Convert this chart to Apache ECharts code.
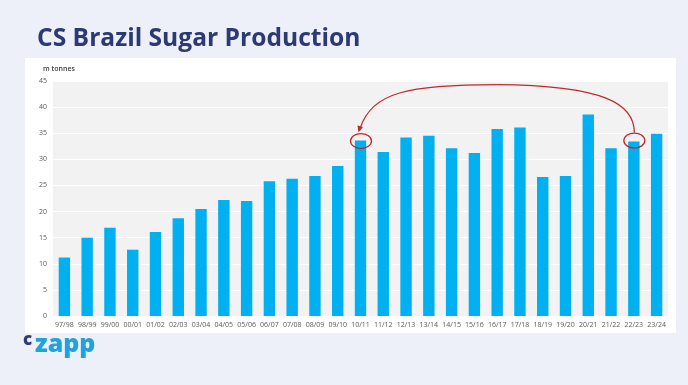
<!DOCTYPE html>
<html><head><meta charset="utf-8">
<script src="https://cdn.jsdelivr.net/npm/echarts@6/dist/echarts.min.js"></script>
<style>html,body{margin:0;padding:0;background:#eef0f9;}#c{width:688px;height:385px;}</style>
</head><body><div id="c"></div>
<script>
const categories = ['97/98','98/99','99/00','00/01','01/02','02/03','03/04','04/05','05/06','06/07','07/08','08/09','09/10','10/11','11/12','12/13','13/14','14/15','15/16','16/17','17/18','18/19','19/20','20/21','21/22','22/23','23/24'];
const production = [11.2,15.0,16.9,12.7,16.1,18.7,20.5,22.2,22.0,25.8,26.3,26.8,28.7,33.6,31.4,34.2,34.5,32.1,31.2,35.8,36.1,26.6,26.8,38.6,32.1,33.4,34.9];
const yTicks = [0,5,10,15,20,25,30,35,40,45];
const highlightFrom = '22/23';
const highlightTo = '10/11';

const chart = echarts.init(document.getElementById('c'), null, {renderer:'canvas'});
const option = {
  backgroundColor: '#eef0f9',
  animation: false,
  grid: {left: 53, right: 20, top: 81, bottom: 69, show: true, backgroundColor: '#f2f2f2', borderWidth: 0},
  xAxis: {
    type: 'category', data: categories,
    axisLine: {show: false}, axisTick: {show: false},
    axisLabel: {color: '#595959', fontSize: 7, fontFamily: 'Open Sans', margin: 5, interval: 0}
  },
  yAxis: {
    type: 'value', min: yTicks[0], max: yTicks[yTicks.length-1], interval: 5,
    axisLine: {show: false}, axisTick: {show: false},
    axisLabel: {color: '#595959', fontSize: 7, fontFamily: 'Open Sans', margin: 6},
    splitLine: {lineStyle: {color: '#ffffff', width: 1}}
  },
  series: [{
    type: 'bar', data: production, barWidth: '50%',
    itemStyle: {color: '#00b0f0'}
  }]
};
chart.setOption(option);

const a = chart.convertToPixel({seriesIndex:0}, [highlightTo, production[categories.indexOf(highlightTo)]]);
const b = chart.convertToPixel({seriesIndex:0}, [highlightFrom, production[categories.indexOf(highlightFrom)]]);
const topY = chart.convertToPixel({yAxisIndex:0}, 44.5);
const red = '#c0282d';
const sx = b[0]+0.5, sy = b[1]-9;
const ex = a[0]-0.5, ey = a[1]-12;
const mx = (sx+ex)/2;
const graphics = [
  {type:'rect', z:-10, shape:{x:25,y:58,width:651,height:275}, style:{fill:'#ffffff'}},
  {type:'text', x:37, y:26, style:{text:'CS Brazil Sugar Production', fill:'#2b3a74', font:'bold 24.6px "Open Sans"', textVerticalAlign:'top'}},
  {type:'text', x:43, y:65, style:{text:'m tonnes', fill:'#404040', font:'600 7px "Open Sans"', textVerticalAlign:'top'}},
  {type:'text', x:23, y:332, style:{text:'c', fill:'#2b3a74', font:'800 17px "Open Sans"', textVerticalAlign:'top'}},
  {type:'text', x:35, y:332, style:{text:'zapp', fill:'#1ea3de', font:'800 25px "Open Sans"', textVerticalAlign:'top'}},
  {type:'ellipse', shape:{cx:a[0]+0.5, cy:a[1]+0.5, rx:10.5, ry:7.5}, style:{fill:'none', stroke:red, lineWidth:1.3}, z:10},
  {type:'ellipse', shape:{cx:b[0]+0.5, cy:b[1]-1, rx:10.5, ry:7.5}, style:{fill:'none', stroke:red, lineWidth:1.3}, z:10},
  {type:'bezierCurve', shape:{x1:sx, y1:sy, cpx1:sx, cpy1:topY+20, cpx2:sx-30, cpy2:topY+2, x2:mx, y2:topY+1}, style:{fill:'none', stroke:red, lineWidth:1.2}, z:10},
  {type:'bezierCurve', shape:{x1:mx, y1:topY+1, cpx1:ex+50, cpy1:topY+1, cpx2:ex+12, cpy2:topY+8, x2:ex, y2:ey}, style:{fill:'none', stroke:red, lineWidth:1.2}, z:10},
  {type:'polygon', shape:{points:[[ex-1.5,ey+4],[ex-2.5,ey-3],[ex+3,ey-1.5]]}, style:{fill:red}, z:10}
];
chart.setOption({graphic: graphics});
</script></body></html>
